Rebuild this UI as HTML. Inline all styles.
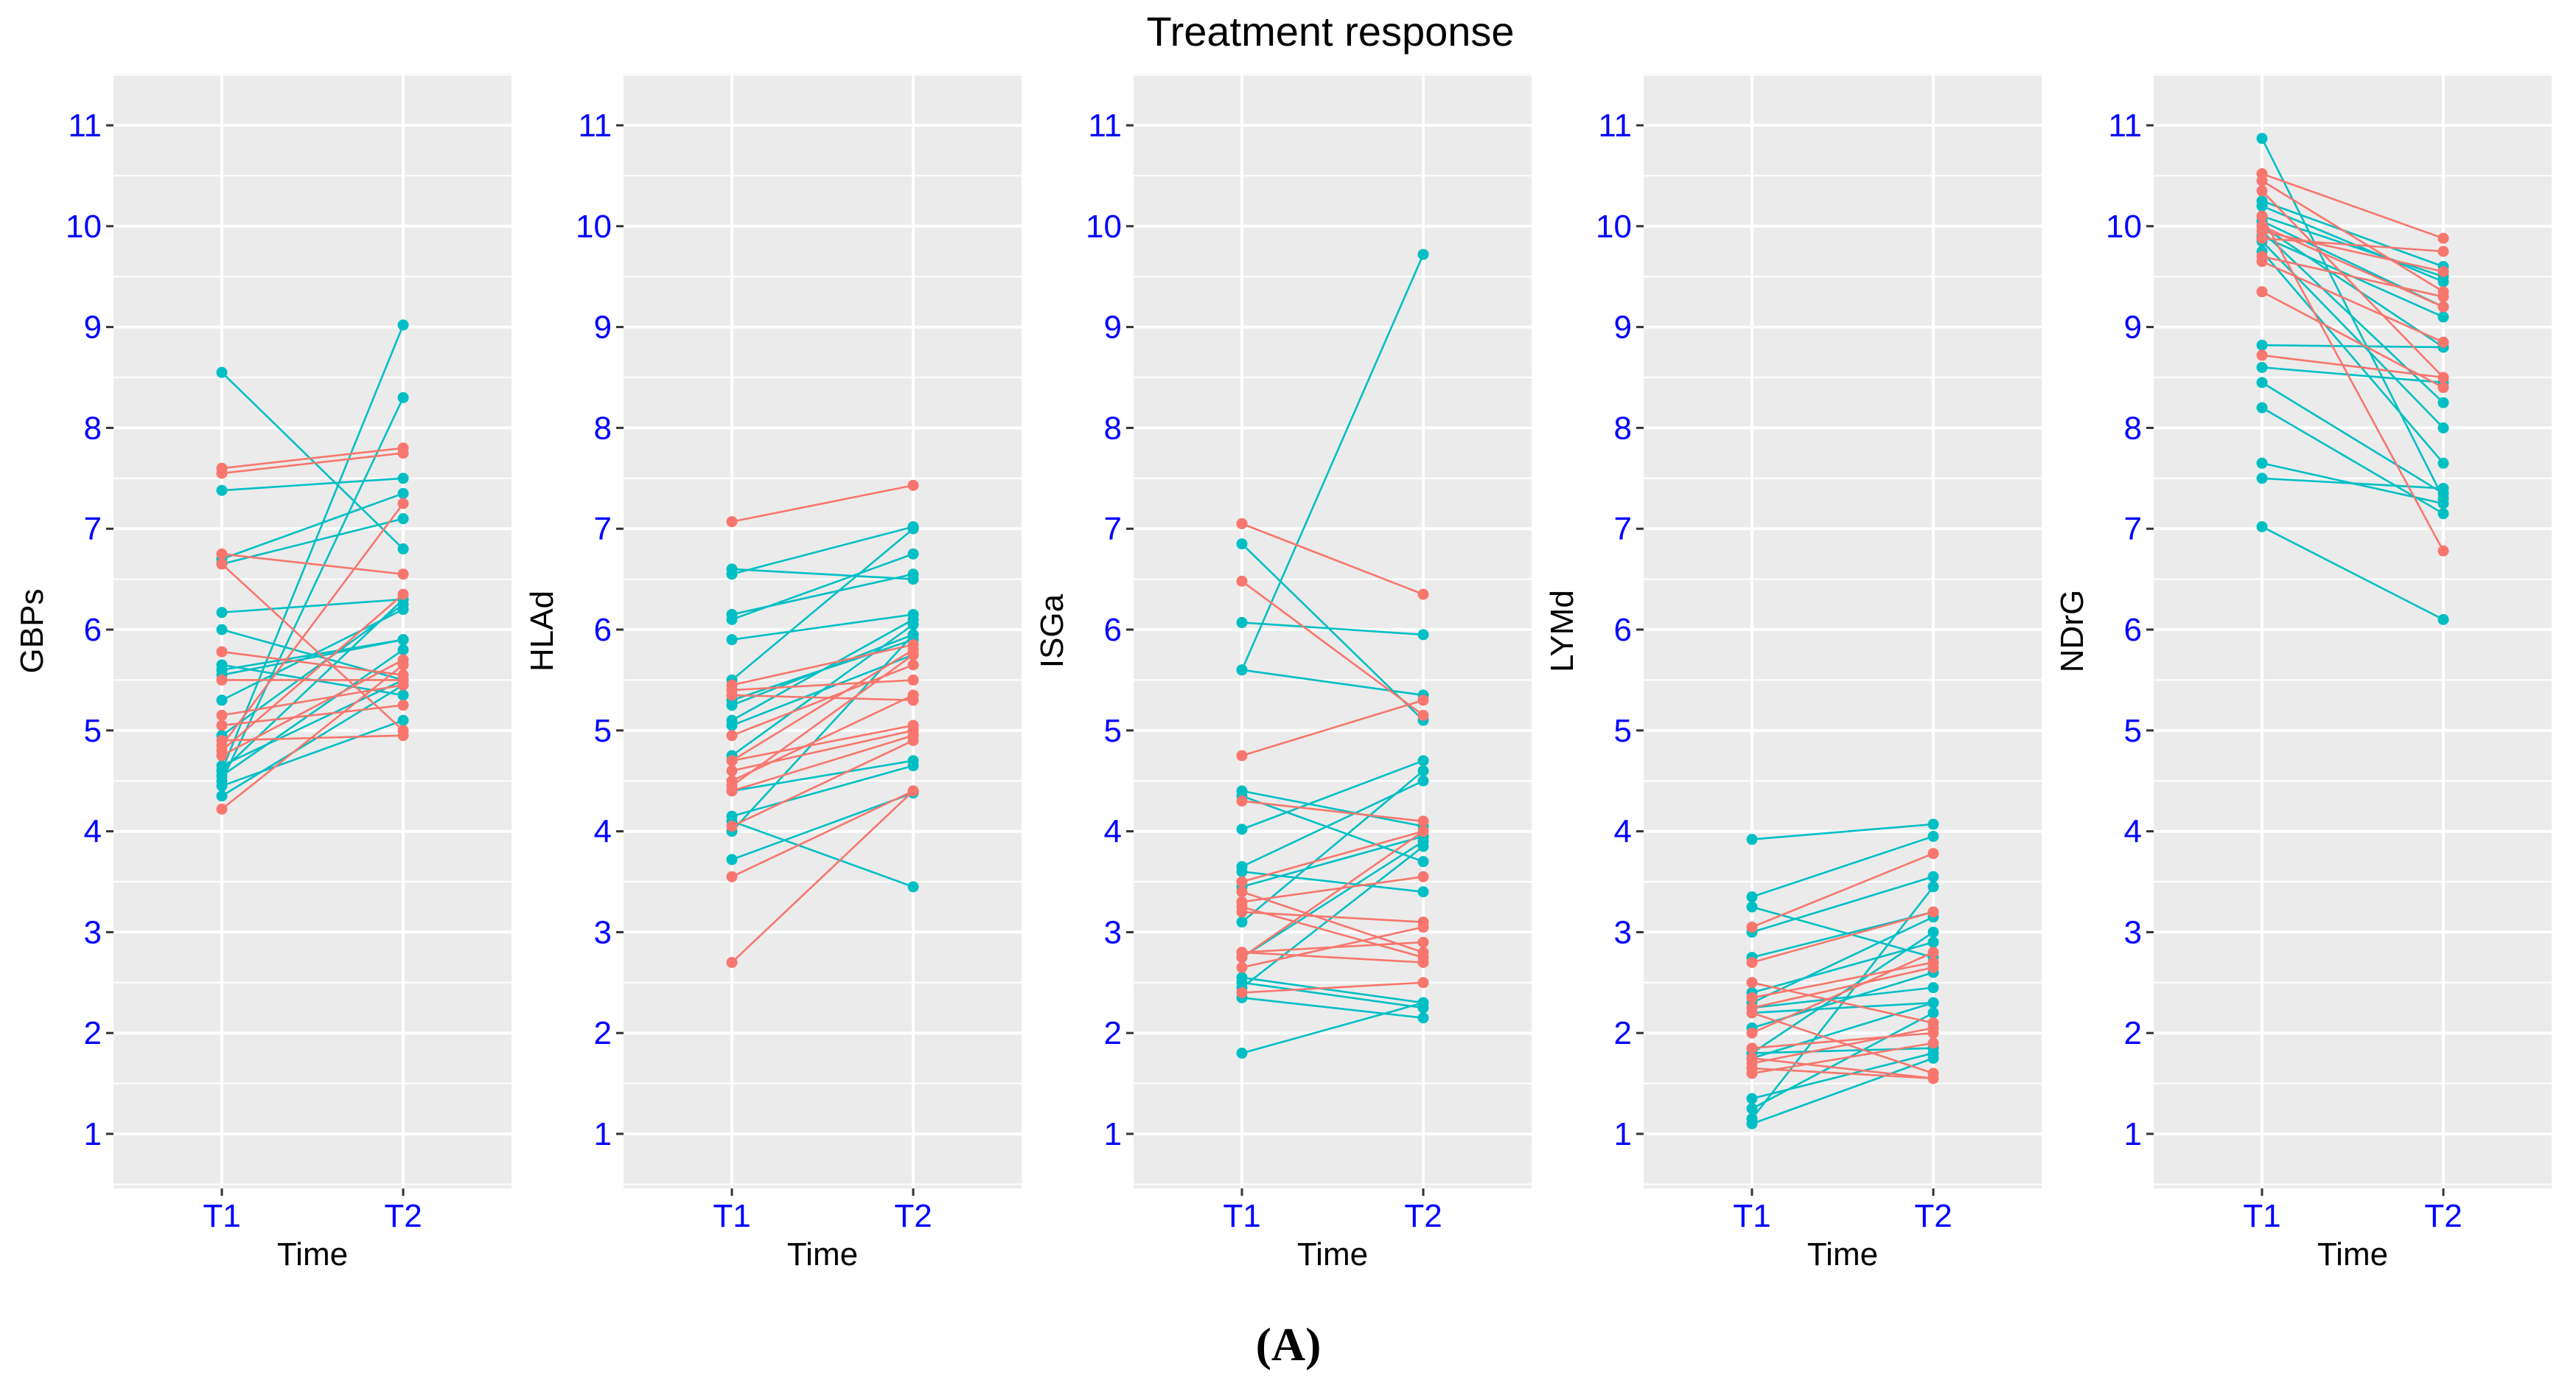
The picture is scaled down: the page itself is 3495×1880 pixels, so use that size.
<!DOCTYPE html>
<html><head><meta charset="utf-8"><style>
html,body{margin:0;padding:0;background:#fff;}
svg{display:block;font-family:"Liberation Sans",sans-serif;}
</style></head><body>
<svg id="chart" width="3495" height="1880" viewBox="0 0 3495 1880" xmlns="http://www.w3.org/2000/svg">
<rect width="3495" height="1880" fill="#fff"/>
<text x="1805" y="62" font-size="56" text-anchor="middle" fill="#000">Treatment response</text>
<text x="1748" y="1845" font-size="64" font-weight="bold" text-anchor="middle" font-family="Liberation Serif, serif" fill="#000">(A)</text>
<g id="panels"></g>
</svg>
<script>
const panelNames = ["GBPs","HLAd","ISGa","LYMd","NDrG"];
const yTicks = [1,2,3,4,5,6,7,8,9,10,11];
const xCats = ["T1","T2"];
const gbpsT1 = [8.55,4.6,4.5,7.38,6.7,6.65,6.17,6.0,5.6,5.3,4.95,4.65,4.55,4.45,4.35,5.65,5.55,4.6, 7.6,7.55,6.75,6.65,5.78,5.5,5.15,5.05,4.85,4.8,4.75,4.22,4.9];
const gbpsT2 = [6.8,9.02,8.3,7.5,7.35,7.1,6.3,5.5,5.9,6.2,6.25,5.5,5.8,5.1,5.45,5.35,5.9,6.3, 7.8,7.75,6.55,5.0,5.55,5.5,5.45,5.25,7.25,6.35,5.7,5.65,4.95];
const gbpsGrp = [1,1,1,1,1,1,1,1,1,1,1,1,1,1,1,1,1,1, 0,0,0,0,0,0,0,0,0,0,0,0,0];
const hladT1 = [6.6,6.55,6.1,6.15,5.9,5.5,5.3,5.25,5.05,4.75,4.4,4.15,4.1,4.0,3.72,5.1, 7.07,5.45,5.35,5.4,4.95,4.7,4.6,4.5,4.45,4.4,4.05,3.55,2.7,4.7];
const hladT2 = [6.5,7.02,6.75,6.55,6.15,7.0,5.9,5.95,5.75,6.05,4.7,4.65,3.45,5.95,4.38,6.1, 7.43,5.85,5.3,5.5,5.65,5.05,5.0,5.35,5.75,4.95,4.9,4.4,4.4,5.8];
const hladGrp = [1,1,1,1,1,1,1,1,1,1,1,1,1,1,1,1, 0,0,0,0,0,0,0,0,0,0,0,0,0,0];
const isgaT1 = [5.6,6.85,6.07,5.6,4.4,4.35,4.02,3.65,3.6,3.45,3.1,2.75,2.55,2.5,2.35,1.8,2.45, 7.05,6.48,4.75,4.3,3.5,3.4,3.3,3.2,3.25,2.8,2.75,2.65,2.4,2.8];
const isgaT2 = [9.72,5.1,5.95,5.35,4.05,3.7,4.7,4.5,3.4,3.95,4.6,3.9,2.3,2.25,2.15,2.3,3.85, 6.35,5.15,5.3,4.1,4.0,2.8,3.55,3.1,2.75,2.9,4.0,3.05,2.5,2.7];
const isgaGrp = [1,1,1,1,1,1,1,1,1,1,1,1,1,1,1,1,1, 0,0,0,0,0,0,0,0,0,0,0,0,0,0];
const lymdT1 = [3.92,3.35,3.25,3.0,2.75,2.4,2.3,2.25,2.05,1.8,1.75,1.35,1.25,1.15,1.1,2.2,1.8, 3.05,2.5,2.35,2.25,2.2,2.0,1.85,1.75,1.7,1.65,1.6,2.7];
const lymdT2 = [4.07,3.95,2.75,3.55,3.2,2.9,3.15,2.45,2.6,3.0,2.3,1.8,2.2,3.45,1.75,2.3,1.85, 3.78,2.1,2.7,2.65,1.6,2.8,2.0,1.55,2.05,1.55,1.9,3.2];
const lymdGrp = [1,1,1,1,1,1,1,1,1,1,1,1,1,1,1,1,1, 0,0,0,0,0,0,0,0,0,0,0,0];
const ndrgT1 = [10.87,10.25,10.2,10.05,10.0,9.95,9.9,9.75,8.82,8.6,8.45,8.2,7.65,7.5,7.02,10.1,9.85, 10.52,10.45,10.35,10.0,9.88,9.7,9.65,9.35,8.72,10.1,9.95];
const ndrgT2 = [7.3,9.6,9.45,9.2,8.8,8.25,9.1,7.65,8.8,8.45,7.35,7.15,7.25,7.4,6.1,9.5,8.0, 9.88,9.35,8.5,9.2,9.75,9.3,8.85,8.4,8.5,6.78,9.55];
const ndrgGrp = [1,1,1,1,1,1,1,1,1,1,1,1,1,1,1,1,1, 0,0,0,0,0,0,0,0,0,0,0,0];

const allT1 = [gbpsT1,hladT1,isgaT1,lymdT1,ndrgT1];
const allT2 = [gbpsT2,hladT2,isgaT2,lymdT2,ndrgT2];
const allGrp = [gbpsGrp,hladGrp,isgaGrp,lymdGrp,ndrgGrp];
const colors = ["#F8766D","#00BFC4"];

const NS = "http://www.w3.org/2000/svg";
const root = document.getElementById("panels");
const PW = 540, PTOP = 100, PBOT = 1612, P0 = 154, PSTEP = 692;
function yScale(v){ return 1538 - (v-1)*136.8; }
function xScale(i,left){ return left + (i===0 ? 147 : 393); }
function mk(tag, attrs, parent){ const e=document.createElementNS(NS,tag); for(const k in attrs) e.setAttribute(k,attrs[k]); parent.appendChild(e); return e; }

panelNames.forEach((name,p)=>{
  const left = P0 + p*PSTEP;
  const g = mk("g",{},root);
  
  
  const bg = mk("rect",{x:left,y:PTOP,width:PW,height:PBOT-PTOP,fill:"#EBEBEB"},g);
  
  
  for(let v=0.5; v<=11.5; v+=1){ const y=yScale(v); if(y>PTOP&&y<PBOT) mk("line",{x1:left,x2:left+PW,y1:y,y2:y,stroke:"#fff","stroke-width":2},g); }
  yTicks.forEach(t=>{
    const y=yScale(t);
    mk("line",{x1:left,x2:left+PW,y1:y,y2:y,stroke:"#fff","stroke-width":4},g);
    mk("line",{x1:left-10,x2:left,y1:y,y2:y,stroke:"#333","stroke-width":3},g);
    const tx = mk("text",{x:left-16,y:y+15,"font-size":44,"text-anchor":"end",fill:"#0000FF"},g);
    tx.textContent = t;
    
    
  });
  xCats.forEach((c,i)=>{
    const x=xScale(i,left);
    mk("line",{x1:x,x2:x,y1:PTOP,y2:PBOT,stroke:"#fff","stroke-width":4},g);
    mk("line",{x1:x,x2:x,y1:PBOT,y2:PBOT+10,stroke:"#333","stroke-width":3},g);
    const tx = mk("text",{x:x,y:PBOT+52,"font-size":44,"text-anchor":"middle",fill:"#0000FF"},g);
    tx.textContent = c;
    
    
  });
  const xt = mk("text",{x:left+PW/2,y:PBOT+104,"font-size":44,"text-anchor":"middle",fill:"#000"},g);
  xt.textContent = "Time";
  
  
  const yt = mk("text",{x:0,y:0,"font-size":44,"text-anchor":"middle",fill:"#000",transform:`translate(${left-96},${(PTOP+PBOT)/2}) rotate(-90)`},g);
  yt.textContent = name;
  
  
  const t1=allT1[p], t2=allT2[p], gr=allGrp[p];
  const order=[...t1.keys()].sort((a,b)=>gr[b]-gr[a]);
  order.forEach(k=>{
    const col=colors[gr[k]];
    const x1=xScale(0,left), x2=xScale(1,left), y1=yScale(t1[k]), y2=yScale(t2[k]);
    const ln = mk("line",{x1:x1,y1:y1,x2:x2,y2:y2,stroke:col,"stroke-width":2.6},g);
    
    
    const a = mk("circle",{cx:x1,cy:y1,r:7.5,fill:col},g);
    
    
    const b = mk("circle",{cx:x2,cy:y2,r:7.5,fill:col},g);
    
    
  });
});
</script>
</body></html>
